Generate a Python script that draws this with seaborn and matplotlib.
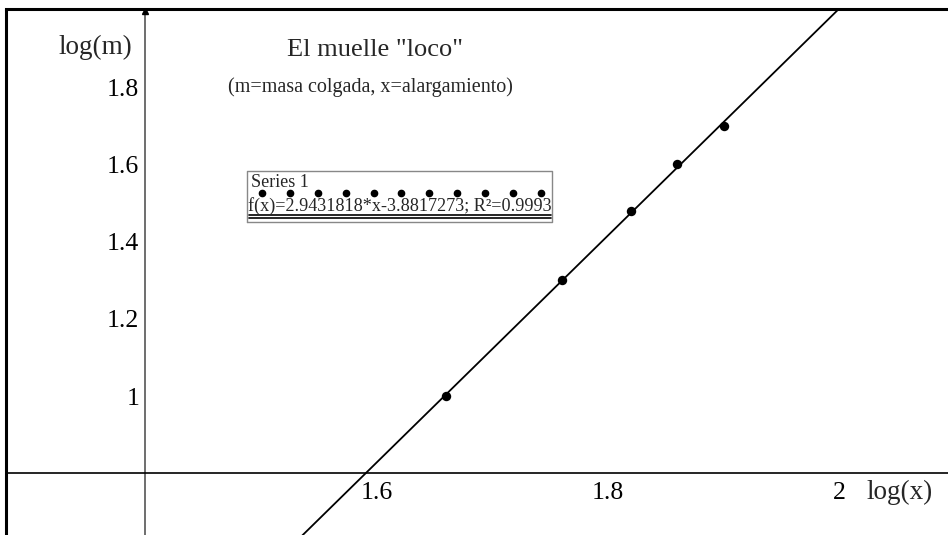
import matplotlib
matplotlib.use("Agg")
import matplotlib.pyplot as plt
import seaborn as sns
import numpy as np
import pandas as pd

# log10 of stretch (x) and hanging mass (m)
log_x = [1.66, 1.76, 1.82, 1.86, 1.90]
log_m = [1.00, 1.30, 1.48, 1.60, 1.70]

# fitted regression line
slope = 2.9431818
intercept = -3.8817273
r2 = 0.9993

x_ticks = [1.6, 1.8, 2.0]
x_tick_labels = ["1.6", "1.8", "2"]
y_ticks = [1.0, 1.2, 1.4, 1.6, 1.8]
y_tick_labels = ["1", "1.2", "1.4", "1.6", "1.8"]

sns.set_style("white")
plt.rcParams["font.family"] = ["Liberation Serif", "DejaVu Serif"]

W, H = 948, 535
fig = plt.figure(figsize=(W / 100, H / 100), dpi=100)
ax = fig.add_axes([6 / W, 0, 1 - 6 / W, (H - 9) / H])

xmin, xmax = 1.28, 2.0937
ymin, ymax = 0.640, 2.0028
ax.set_xlim(xmin, xmax)
ax.set_ylim(ymin, ymax)

# pixel -> data helpers for placing annotations
px = lambda p: 1.4 + (p - 145) / 1157.5
py = lambda p: 0.8 + (473.3 - p) / 386

df = pd.DataFrame({"log_x": log_x, "log_m": log_m})

# regression line across the whole view
xl = np.array([xmin, xmax])
line_df = pd.DataFrame({"x": xl, "y": slope * xl + intercept})
sns.lineplot(data=line_df, x="x", y="y", ax=ax, color="black", lw=1.3)

sns.scatterplot(data=df, x="log_x", y="log_m", ax=ax, color="black",
                s=46, edgecolor="black", linewidth=0, zorder=5)

# axes crossing at (1.4, 0.8)
ax.spines["left"].set_position(("data", 1.4))
ax.spines["bottom"].set_position(("data", 0.8))
ax.spines["left"].set_color("#555555")
ax.spines["left"].set_linewidth(1.2)
ax.spines["bottom"].set_color("black")
ax.spines["bottom"].set_linewidth(1.2)
ax.spines["right"].set_visible(False)
ax.spines["top"].set_visible(True)
ax.spines["top"].set_linewidth(2.2)
ax.spines["top"].set_color("black")

# left frame border
ax.plot([0, 0], [0, 1], transform=ax.transAxes, color="black", lw=2.2,
        clip_on=False, solid_capstyle="butt")

ax.set_xticks(x_ticks)
ax.set_xticklabels(x_tick_labels)
ax.set_yticks(y_ticks)
ax.set_yticklabels(y_tick_labels)
ax.tick_params(axis="both", direction="inout", length=7, width=0.8,
               colors="#555555", labelcolor="black", labelsize=18.5)
ax.tick_params(axis="x", pad=3)
ax.tick_params(axis="y", pad=0.5)
ax.set_xlabel("")
ax.set_ylabel("")

# arrow head on top of the vertical axis
ax.plot([1.4], [ymax - 0.006], marker="^", color="black", markersize=5,
        clip_on=False, zorder=6)

# axis titles
ax.text(px(95), py(47), "log(m)", fontsize=19.5, ha="center", va="center")
ax.text(px(900), py(492), "log(x)", fontsize=19.5, ha="center", va="center")

# title and subtitle
ax.text(px(375), py(50), "El muelle \"loco\"", fontsize=19, ha="center",
        va="center")
ax.text(px(370.5), py(87), "(m=masa colgada, x=alargamiento)", fontsize=14.5,
        ha="center", va="center")

# legend box
x0, x1 = px(247), px(552)
y0, y1 = py(222), py(171)
ax.plot([x0, x1, x1, x0, x0], [y0, y0, y1, y1, y0], color="#888888", lw=1.0)
ax.text(px(251), py(183), "Series 1", fontsize=13, ha="left", va="center")
dot_x = [px(262 + 27.9 * i) for i in range(11)]
ax.plot(dot_x, [py(193)] * len(dot_x), ls="none", marker="o", color="black",
        markersize=4.5)
ax.text(px(248), py(206), "f(x)=2.9431818*x-3.8817273; R²=0.9993",
        fontsize=13.1, ha="left", va="center")
ax.plot([px(249), px(551)], [py(215.5)] * 2, color="black", lw=1.2)
ax.plot([px(249), px(551)], [py(218.5)] * 2, color="black", lw=1.2)

fig.savefig("out.png", dpi=100)
